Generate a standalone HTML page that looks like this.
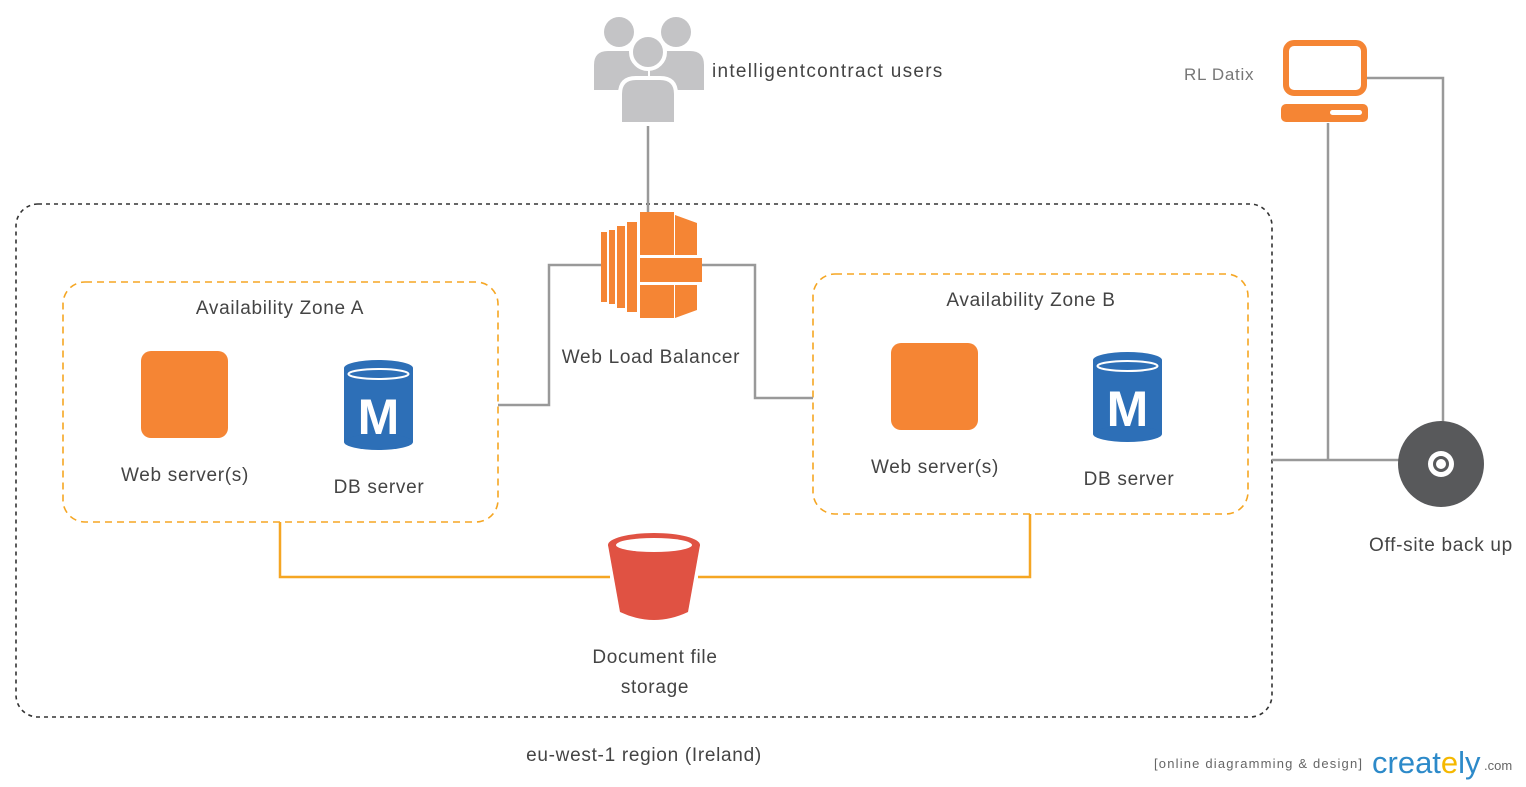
<!DOCTYPE html>
<html><head><meta charset="utf-8"><style>
body{margin:0;background:#fff;}
svg{display:block;font-family:"Liberation Sans",sans-serif;}
.l{letter-spacing:0.7px;}
</style></head><body>
<svg width="1526" height="787" viewBox="0 0 1526 787">
<rect x="16" y="204" width="1256" height="513" rx="22" fill="none" stroke="#333" stroke-width="1.6" stroke-dasharray="4,4"/>
<rect x="63" y="282" width="435" height="240" rx="22" fill="none" stroke="#f5a623" stroke-width="1.6" stroke-dasharray="7,5"/>
<rect x="813" y="274" width="435" height="240" rx="22" fill="none" stroke="#f5a623" stroke-width="1.6" stroke-dasharray="7,5"/>
<g fill="none" stroke="#999" stroke-width="2.5">
<polyline points="498,405 549,405 549,265 602,265"/>
<polyline points="700,265 755,265 755,398 813,398"/>
<line x1="648" y1="120" x2="648" y2="212"/>
<line x1="1272" y1="460" x2="1400" y2="460"/>
<line x1="1328" y1="123" x2="1328" y2="460"/>
<polyline points="1366,78 1443,78 1443,422"/>
</g>
<g fill="none" stroke="#f5a623" stroke-width="2.5">
<polyline points="280,522 280,577 610,577"/>
<polyline points="698,577 1030,577 1030,514"/>
</g>
<!-- users -->
<g fill="#c4c4c6">
<circle cx="619" cy="32" r="15"/><circle cx="676" cy="32" r="15"/>
<path d="M594 90 v-25 q0-14 14-14 h26 q14 0 14 14 v25z"/>
<path d="M650 90 v-25 q0-14 14-14 h26 q14 0 14 14 v25z"/>
<circle cx="648" cy="52" r="17" stroke="#fff" stroke-width="4"/>
<path d="M620 124 v-30 q0-16 16-16 h24 q16 0 16 16 v30z" stroke="#fff" stroke-width="4"/>
</g>
<text x="712" y="77" font-size="19" fill="#444" class="l" textLength="231">intelligentcontract users</text>
<!-- load balancer -->
<g fill="#f58534">
<rect x="601" y="232" width="6" height="70"/><rect x="609" y="230" width="6" height="74"/>
<rect x="617" y="226" width="8" height="82"/><rect x="627" y="222" width="10" height="90"/>
<rect x="640" y="212" width="34" height="43"/><rect x="640" y="285" width="34" height="33"/>
<path d="M675 215 l22 8 v32 h-22z"/><path d="M675 285 h22 v25 l-22 8z"/>
<rect x="640" y="258" width="62" height="24"/>
</g>
<text x="651" y="363" font-size="19" fill="#444" text-anchor="middle" class="l">Web Load Balancer</text>
<!-- zone A -->
<text x="280" y="314" font-size="19" fill="#444" text-anchor="middle" class="l">Availability Zone A</text>
<rect x="141" y="351" width="87" height="87" rx="10" fill="#f58534"/>
<text x="185" y="481" font-size="19" fill="#444" text-anchor="middle" class="l">Web server(s)</text>
<g><rect x="344" y="368" width="69" height="74" fill="#2d6fb7"/><ellipse cx="378.5" cy="442" rx="34.5" ry="8" fill="#2d6fb7"/><ellipse cx="378.5" cy="368" rx="34.5" ry="8" fill="#2d6fb7"/><ellipse cx="378.5" cy="374" rx="30" ry="5" fill="none" stroke="#fff" stroke-width="2"/>
<text x="378.5" y="434" font-size="50" font-weight="bold" fill="#fff" text-anchor="middle">M</text></g>
<text x="379" y="493" font-size="19" fill="#444" text-anchor="middle" class="l">DB server</text>
<!-- zone B -->
<text x="1031" y="306" font-size="19" fill="#444" text-anchor="middle" class="l">Availability Zone B</text>
<rect x="891" y="343" width="87" height="87" rx="10" fill="#f58534"/>
<text x="935" y="473" font-size="19" fill="#444" text-anchor="middle" class="l">Web server(s)</text>
<g><rect x="1093" y="360" width="69" height="74" fill="#2d6fb7"/><ellipse cx="1127.5" cy="434" rx="34.5" ry="8" fill="#2d6fb7"/><ellipse cx="1127.5" cy="360" rx="34.5" ry="8" fill="#2d6fb7"/><ellipse cx="1127.5" cy="366" rx="30" ry="5" fill="none" stroke="#fff" stroke-width="2"/>
<text x="1127.5" y="426" font-size="50" font-weight="bold" fill="#fff" text-anchor="middle">M</text></g>
<text x="1129" y="485" font-size="19" fill="#444" text-anchor="middle" class="l">DB server</text>
<!-- bucket -->
<path d="M608 545 L620 612 Q654 628 688 612 L700 545z" fill="#e05243"/>
<ellipse cx="654" cy="545" rx="46" ry="12" fill="#e05243"/>
<ellipse cx="654" cy="545" rx="38" ry="7" fill="#fff"/>
<text x="655" y="663" font-size="19" fill="#444" text-anchor="middle" class="l">Document file</text>
<text x="655" y="693" font-size="19" fill="#444" text-anchor="middle" class="l">storage</text>
<text x="644" y="761" font-size="19" fill="#444" text-anchor="middle" class="l">eu-west-1 region (Ireland)</text>
<!-- RL Datix -->
<text x="1184" y="80" font-size="17" fill="#777" class="l">RL Datix</text>
<rect x="1286" y="43" width="78" height="50" rx="8" fill="none" stroke="#f58534" stroke-width="6"/>
<rect x="1281" y="104" width="87" height="18" rx="5" fill="#f58534"/>
<rect x="1330" y="110" width="32" height="5" rx="2.5" fill="#fff"/>
<!-- disc -->
<circle cx="1441" cy="464" r="43" fill="#58595b"/>
<circle cx="1441" cy="464" r="13" fill="#fff"/>
<circle cx="1441" cy="464" r="8" fill="#58595b"/>
<circle cx="1441" cy="464" r="5" fill="#fff"/>
<text x="1441" y="551" font-size="19" fill="#444" text-anchor="middle" class="l">Off-site back up</text>
<!-- creately -->
<text x="1154" y="768" font-size="13" fill="#666" textLength="208">[online diagramming &amp; design]</text>
<text x="1372" y="773" font-size="31" fill="#2d8ac9">creat<tspan fill="#f5b800">e</tspan>ly</text>
<text x="1484" y="770" font-size="13" fill="#666">.com</text>
</svg>
</body></html>
